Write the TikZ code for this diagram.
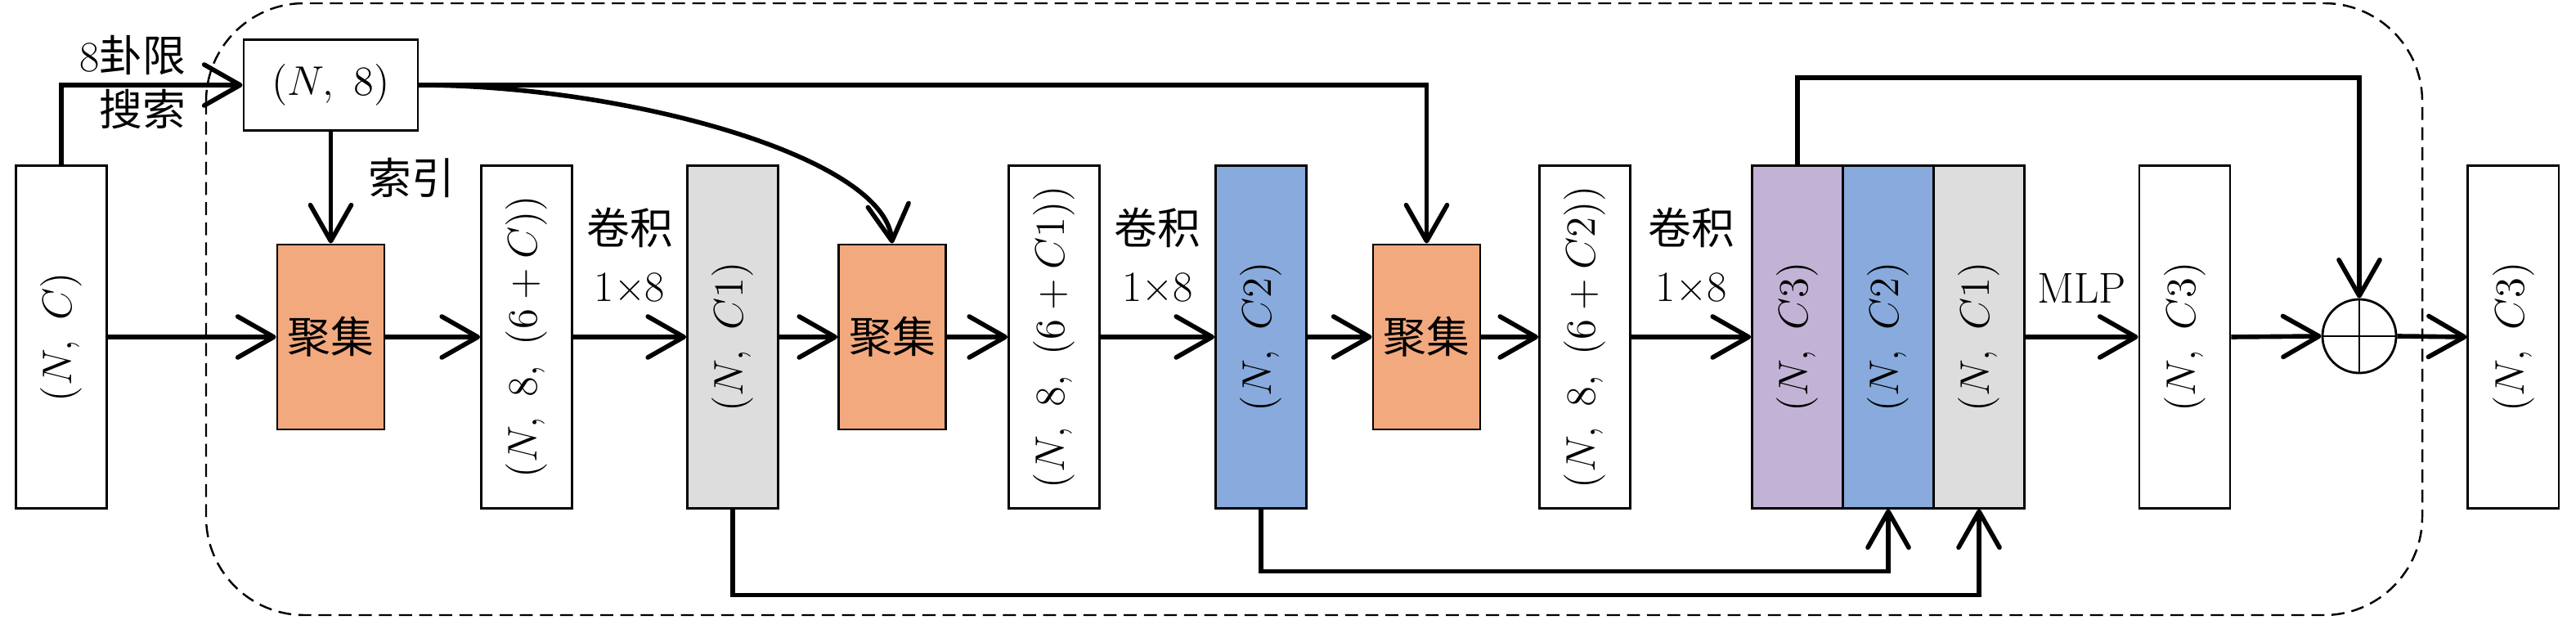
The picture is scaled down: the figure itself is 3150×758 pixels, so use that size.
\documentclass[tikz,border=0pt]{standalone}
\usepackage{fontspec}
\newfontfamily\cjk{Noto Sans CJK SC}
\usetikzlibrary{arrows.meta,calc}
\definecolor{gorange}{HTML}{F2A97E}
\definecolor{ggray}{HTML}{DDDDDD}
\definecolor{gblue}{HTML}{88AADC}
\definecolor{gpurple}{HTML}{C2B3D6}
\begin{document}
\begin{tikzpicture}[x=0.01cm,y=-0.01cm,
  tallbox/.style={draw=black, line width=0.8pt, minimum width=1.11cm, minimum height=4.18cm, inner sep=0pt, font=\fontsize{15}{18}\selectfont},
  gatherbox/.style={draw=black, line width=0.8pt, fill=gorange, minimum width=1.31cm, minimum height=2.26cm, inner sep=0pt, font=\cjk\fontsize{15}{18}\selectfont},
  conn/.style={line width=1.6pt, -{Straight Barb[length=0.44cm,width=0.5cm,round]}},
  lbl/.style={inner sep=0pt, font=\fontsize{15}{18}\selectfont},
  cjklbl/.style={inner sep=0pt, font=\cjk\fontsize{15}{18}\selectfont}]
\useasboundingbox (0,0) rectangle (3150,758);

% dashed module frame
\draw[line width=0.7pt, dash pattern=on 4.5pt off 2.5pt, rounded corners=1.2cm] (252,4) rectangle (2962,752);

% nodes
\node[tallbox] (nc) at (75,412) {\rotatebox{90}{$(N,\ C)$}};
\node[draw=black, line width=0.8pt, minimum width=2.13cm, minimum height=1.11cm, inner sep=0pt, font=\fontsize{15}{18}\selectfont] (n8) at (404.5,104) {$(N,\ 8)$};
\node[gatherbox] (g1) at (404.5,412) {聚集};
\node[tallbox] (b1) at (644,412) {\rotatebox{90}{$(N,\ 8,\ (6+C))$}};
\node[tallbox, fill=ggray] (c1) at (896,412) {\rotatebox{90}{$(N,\ C1)$}};
\node[gatherbox] (g2) at (1091,412) {聚集};
\node[tallbox] (b2) at (1289,412) {\rotatebox{90}{$(N,\ 8,\ (6+C1))$}};
\node[tallbox, fill=gblue] (c2) at (1542,412) {\rotatebox{90}{$(N,\ C2)$}};
\node[gatherbox] (g3) at (1744.5,412) {聚集};
\node[tallbox] (b3) at (1938,412) {\rotatebox{90}{$(N,\ 8,\ (6+C2))$}};
\node[tallbox, fill=gpurple] (p3) at (2198,412) {\rotatebox{90}{$(N,\ C3)$}};
\node[tallbox, fill=gblue] (q2) at (2309,412) {\rotatebox{90}{$(N,\ C2)$}};
\node[tallbox, fill=ggray] (q1) at (2420,412) {\rotatebox{90}{$(N,\ C1)$}};
\node[tallbox] (c3) at (2671.5,412) {\rotatebox{90}{$(N,\ C3)$}};
\node[circle, draw=black, line width=0.8pt, minimum size=0.9cm, inner sep=0pt] (ad) at (2885,411) {};
\draw[line width=0.6pt] (ad.north) -- (ad.south);
\draw[line width=0.6pt] (ad.west) -- (ad.east);
\node[tallbox] (out) at (3073.4,412) {\rotatebox{90}{$(N,\ C3)$}};

% labels
\node[lbl, anchor=east] (l8a) at (228,67) {8{\cjk 卦限}};
\node[cjklbl, anchor=east] (l8b) at (228,133) {搜索};
\node[cjklbl] (lidx) at (503,217) {索引};
\node[cjklbl] (k1a) at ($(b1.east)!0.5!(c1.west)+(0,-134)$) {卷积};
\node[lbl] (k1b) at ($(b1.east)!0.5!(c1.west)+(0,-61)$) {1×8};
\node[cjklbl] (k2a) at ($(b2.east)!0.5!(c2.west)+(0,-134)$) {卷积};
\node[lbl] (k2b) at ($(b2.east)!0.5!(c2.west)+(0,-61)$) {1×8};
\node[cjklbl] (k3a) at ($(b3.east)!0.5!(p3.west)+(0,-134)$) {卷积};
\node[lbl] (k3b) at ($(b3.east)!0.5!(p3.west)+(0,-61)$) {1×8};
\node[lbl] (mlp) at ($(q1.east)!0.5!(c3.west)+(0,-60)$) {MLP};

% connectors
\draw[conn] (nc.north) |- (n8.west);
\draw[conn] (n8.south) -- (g1.north);
\draw[conn] (n8.east) .. controls (760,104) and (1080,190) .. (g2.north);
\draw[conn] (n8.east) -| (g3.north);
\draw[conn] (nc.east) -- (g1.west);
\draw[conn] (g1.east) -- (b1.west);
\draw[conn] (b1.east) -- (c1.west);
\draw[conn] (c1.east) -- (g2.west);
\draw[conn] (g2.east) -- (b2.west);
\draw[conn] (b2.east) -- (c2.west);
\draw[conn] (c2.east) -- (g3.west);
\draw[conn] (g3.east) -- (b3.west);
\draw[conn] (b3.east) -- (p3.west);
\draw[conn] (q1.east) -- (c3.west);
\draw[conn] (c3.east) -- (ad.west);
\draw[conn] (ad.east) -- (out.west);
\coordinate (t3) at (2198,95);
\draw[conn] (p3.north) -- (t3) -| (ad.north);
\draw[conn] (c1.south) -- ++(0,105) -| (q1.south);
\draw[conn] (c2.south) -- ++(0,76) -| (q2.south);
\end{tikzpicture}
\end{document}
